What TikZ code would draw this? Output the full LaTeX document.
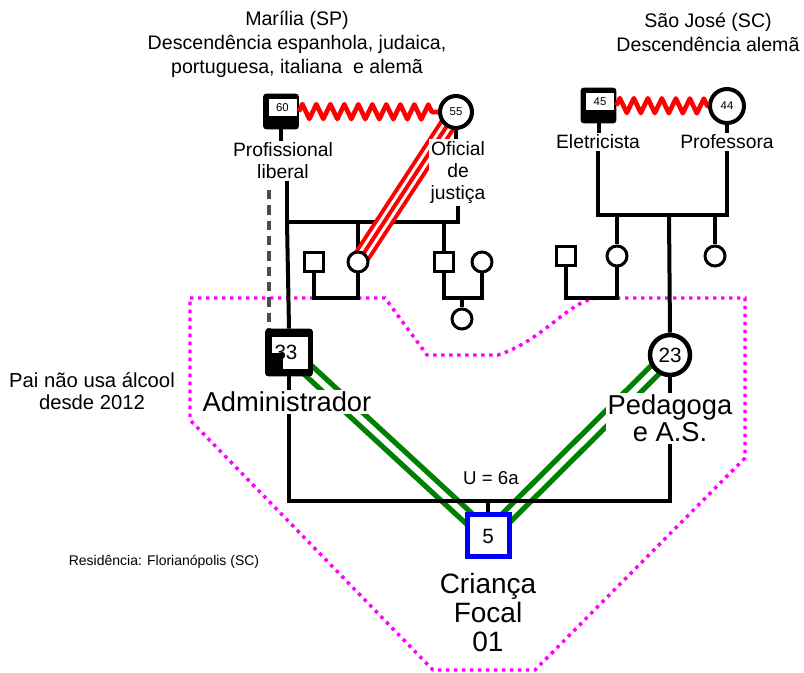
\documentclass[tikz,border=0pt]{standalone}
\usepackage{fontspec}
\setmainfont{Liberation Sans}
\usetikzlibrary{decorations.pathmorphing,positioning}
\pgfdeclarelayer{back}
\pgfsetlayers{back,main}
\definecolor{homepink}{RGB}{255,0,255}
\definecolor{closegreen}{RGB}{0,128,0}

\begin{document}
\begin{tikzpicture}[x=0.75pt, y=-0.75pt,
    male/.style={draw, fill=white, line width=2.25pt, minimum size=14.25pt, inner sep=0pt},
    female/.style={draw, circle, fill=white, line width=2.25pt, minimum size=15pt, inner sep=0pt},
    abuse/.style={draw, fill=black, rounded corners=2pt, line width=0.75pt, minimum size=26pt, inner sep=0pt},
    window/.style={fill=white, inner sep=0pt},
    elder/.style={draw, circle, fill=white, line width=3pt, inner sep=0pt, font=\fontsize{8.5}{9}\selectfont},
    small/.style={font=\fontsize{8.5}{9}\selectfont},
    num/.style={font=\fontsize{15.5}{16}\selectfont},
    job/.style={align=center, fill=white, inner sep=1.5pt, font=\fontsize{14.5}{16.5}\selectfont},
    biglab/.style={align=center, fill=white, inner sep=1.5pt, font=\fontsize{20.5}{20.5}\selectfont},
    origin/.style={align=center, font=\fontsize{14.7}{18}\selectfont},
    rel/.style={line width=3pt},
    conflict/.style={red, line width=3.5pt, line join=round, decorate, decoration={zigzag, segment length=10.5pt, amplitude=5.5pt}},
    fused/.style={red, line width=13.5pt, postaction={draw=white, line width=7.5pt}, postaction={draw=red, line width=3pt}},
    close/.style={closegreen, line width=4pt, double=white, double distance=4.5pt},
    distant/.style={black!70, line width=3.5pt, dash pattern=on 7pt off 4.5pt},
    home/.style={homepink, line width=2.6pt, dash pattern=on 2.6pt off 3.4pt}
]
\useasboundingbox (0,0) rectangle (804,673);

% origem das familias
\node[origin] (orig1) at (297,44.5) {Marília (SP)\\Descendência espanhola, judaica,\\portuguesa, italiana\ \ e alemã};
\node[origin] (orig2) at (708,32.5) {São José (SC)\\Descendência alemã};

% avos paternos
\node[abuse] (avo1) at (281,111.5) {};
\node[window, small, minimum width=21pt, minimum height=12.75pt] (avo1n) at (282.5,107.5) {60};
\node[elder, minimum size=24pt] (ava1) at (456,112) {55};
\node[job] (avo1lab) at (283,161) {Profissional\\liberal};
\node[job] (ava1lab) at (458,172.5) {Oficial\\de\\justiça};

% avos maternos
\node[abuse] (avo2) at (598.5,105.5) {};
\node[window, small, minimum width=21pt, minimum height=12.75pt] (avo2n) at (600,101.5) {45};
\node[elder, minimum size=25.5pt] (ava2) at (727,106) {44};
\node[job] (avo2lab) at (598,142) {Eletricista};
\node[job] (ava2lab) at (727,142) {Professora};

% tios
\node[male] (tio1) at (314,262.5) {};
\node[female] (tia1) at (358,262) {};
\node[male] (tio2) at (444,262.5) {};
\node[female] (tia2) at (482,262) {};
\node[female] (prima) at (462,319) {};
\node[male] (tio3) at (566,256.5) {};
\node[female] (tia3) at (617,256) {};
\node[female] (tia4) at (715,256) {};

% pais
\node[abuse, minimum size=35pt] (pai) at (289,352.5) {};
\node[window, minimum width=27pt, minimum height=12pt] (paiw1) at (290,345) {};
\node[window, minimum width=18.75pt, minimum height=12pt] (paiw2) at (295.5,361) {};
\node[num] (pain) at (286,352) {33};
\node[draw, circle, fill=white, line width=3.4pt, minimum size=30pt, inner sep=0pt, num] (mae) at (670,355) {23};
\node[biglab] (pailab) at (287,402) {Administrador};
\node[biglab] (maelab) at (670,418.5) {Pedagoga\\e A.S.};

% crianca focal
\node[draw=blue, fill=white, line width=3.75pt, minimum size=31.5pt, inner sep=0pt, num] (foco) at (488,536) {5};
\node[align=center, font=\fontsize{21}{22}\selectfont] (focolab) at (488,612.5) {Criança\\Focal\\01};
\node[font=\fontsize{14}{16}\selectfont] (uniao) at (491,478) {U = 6a};

\node[align=center, font=\fontsize{15.2}{16.5}\selectfont] (nota) at (92,391) {Pai não usa álcool\\desde 2012};
\node[font=\fontsize{10.5}{12}\selectfont] (resid) at (164,562) {Residência: Florianópolis (SC)};

\coordinate (lbar) at (287,222);
\coordinate (rbar) at (669,215);
\coordinate (cbar) at (488,501);
\coordinate (dtop) at (269,190);

\begin{pgfonlayer}{back}
\draw[home] (190,298) -- (385,298) -- (427,355) -- (498,355)
    .. controls (545,340) and (570,298) .. (600,298) -- (745,298)
    -- (745,458) -- (535,670) -- (433,670) -- (190,420) -- cycle;
\draw[close] (pai.center) -- (foco.center);
\draw[close] (mae.center) -- (foco.center);
\draw[distant] (dtop) -- (dtop |- pai.north);
% linhas de familia
\draw[rel] (avo1.south) -- (avo1.south |- avo1lab.north);
\draw[rel] (ava1.south) -- (ava1.south |- ava1lab.north);
\draw[rel] (avo2.south) -- (avo2.south |- avo2lab.north);
\draw[rel] (ava2.south) -- (ava2.south |- ava2lab.north);
\draw[rel] (avo1lab.south -| lbar) -- (lbar) -| (ava1lab.south);
\draw[rel] (lbar) -- (pai.north);
\draw[rel] (tia1.north |- lbar) -- (tia1.north);
\draw[rel] (tio2.north |- lbar) -- (tio2.north);
\draw[rel] (tio1.south) -- ++(0,25) -| (tia1.south);
\draw[rel] (tio2.south) -- ++(0,25) coordinate (u2) -| (tia2.south);
\draw[rel] (prima.north) -- (prima.north |- u2);
\draw[rel] (avo2lab.south) |- (rbar) -| (ava2lab.south);
\draw[rel] (rbar) -- (mae.north);
\draw[rel] (tia3.north |- rbar) -- (tia3.north);
\draw[rel] (tia4.north |- rbar) -- (tia4.north);
\draw[rel] (tio3.south) -- ++(0,31) -| (tia3.south);
\draw[rel] (pai.south) |- (cbar) -| (mae.south);
\draw[rel] (cbar) -- (foco.north);
\draw[fused] (ava1.center) -- (tia1.center);
\end{pgfonlayer}

\draw[conflict] (avo1.east) -- (ava1.west);
\draw[conflict] (avo2.east) -- (ava2.west);
\end{tikzpicture}
\end{document}
